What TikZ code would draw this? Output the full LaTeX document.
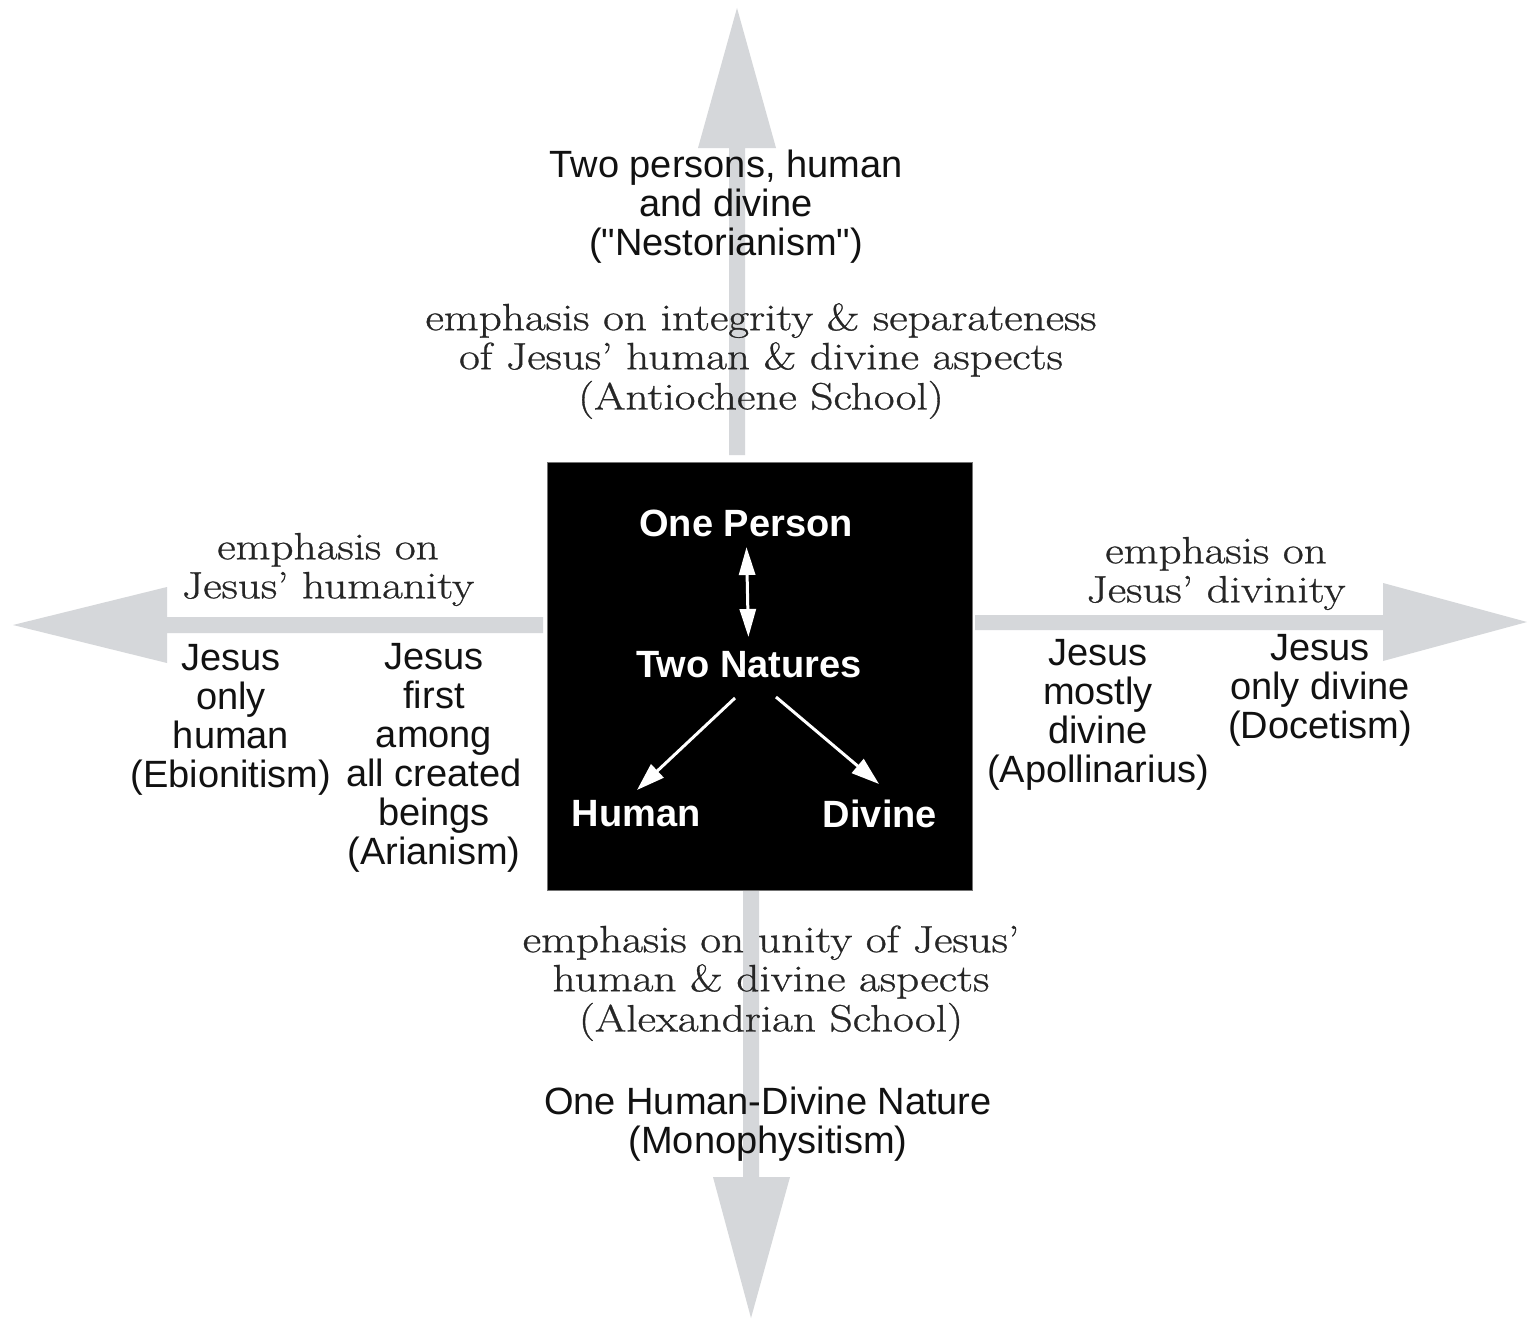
\documentclass[tikz,border=0pt]{standalone}
\usepackage{fontspec}
\usepackage{graphicx}
\newfontfamily\sansf{Liberation Sans}
\newfontfamily\serf[FakeBold=0.7,Ligatures=TeX]{Latin Modern Roman}
\usetikzlibrary{arrows.meta}
\definecolor{arrowgray}{HTML}{D5D7DA}
\definecolor{sertext}{HTML}{262626}
\definecolor{santext}{HTML}{111111}
\newcommand{\serblock}[1]{\scalebox{1.19}[1]{\begin{tabular}{@{}c@{}}#1\end{tabular}}}
\tikzset{
  bigarrow/.style={fill=arrowgray},
  sanslabel/.style={font=\sansf\fontsize{38}{39}\selectfont, align=center, text=santext, inner sep=0pt},
  seriflabel/.style={font=\serf\fontsize{38}{39}\selectfont, text=sertext, inner sep=0pt},
  boxlabel/.style={font=\sansf\bfseries\fontsize{38}{40}\selectfont, text=white, inner sep=0pt},
  whitearrow/.style={draw=white, line width=3pt, -{Triangle[length=28pt,width=18pt]}},
  whitedouble/.style={draw=white, line width=3pt, {Triangle[length=28pt,width=16pt]}-{Triangle[length=28pt,width=16pt]}}
}
\begin{document}
\begin{tikzpicture}[x=1pt,y=-1pt]
\fill[white] (0,0) rectangle (1528,1319);
\useasboundingbox (0,0) rectangle (1528,1319);
% big gray arrows
\fill[bigarrow] (729,455) -- (729,148) -- (698,148) -- (737,8) -- (776,148) -- (745,148) -- (745,455) -- cycle;
\fill[bigarrow] (743,891) -- (743,1177) -- (713,1177) -- (751,1318) -- (790,1177) -- (759,1177) -- (759,891) -- cycle;
\fill[bigarrow] (543,617) -- (167,617) -- (167,587) -- (13,625) -- (167,663) -- (167,633) -- (543,633) -- cycle;
\fill[bigarrow] (975,615) -- (1383,615) -- (1383,583) -- (1527,622) -- (1383,661) -- (1383,630) -- (975,630) -- cycle;
% central box
\node[draw=black!55, fill=black, line width=1pt, minimum width=425pt, minimum height=428pt, inner sep=0pt] (box) at (759.5,676) {};
\node[boxlabel] (onep) at (746,523) {One Person};
\node[boxlabel] (twon) at (749,665) {Two Natures};
\node[boxlabel] (human) at (636,814) {Human};
\node[boxlabel] (divine) at (880,814) {Divine};
\draw[whitedouble, shorten <=24pt, shorten >=28pt] (onep.center) -- (twon.center);
\draw[whitearrow] ([xshift=-14pt,yshift=-33pt]twon.center) -- ([xshift=1pt,yshift=24pt]human.center);
\draw[whitearrow] ([xshift=27pt,yshift=-32pt]twon.center) -- ([xshift=-1pt,yshift=30pt]divine.center);
% labels
\node[sanslabel] (nest) at (726,207) {Two persons, human\\and divine\\("Nestorianism")};
\node[seriflabel] (antioch) at (761,362) {\serblock{emphasis on integrity \& separateness\\of Jesus' human \& divine aspects\\(Antiochene School)}};
\node[seriflabel] (humanity) at (328,571) {\serblock{emphasis on\\Jesus' humanity}};
\node[sanslabel] (ebion) at (231,720) {Jesus\\only\\human\\(Ebionitism)};
\node[sanslabel] (arian) at (434,758) {Jesus\\first\\among\\all created\\beings\\(Arianism)};
\node[seriflabel] (divinity) at (1216,575) {\serblock{emphasis on\\Jesus' divinity}};
\node[sanslabel] (apoll) at (1098,715) {Jesus\\mostly\\divine\\(Apollinarius)};
\node[sanslabel] (docet) at (1320,690) {Jesus\\only divine\\(Docetism)};
\node[seriflabel] (alex) at (771,984) {\serblock{emphasis on unity of Jesus'\\human \& divine aspects\\(Alexandrian School)}};
\node[sanslabel] (mono) at (768,1124) {One Human-Divine Nature\\(Monophysitism)};
\end{tikzpicture}
\end{document}
